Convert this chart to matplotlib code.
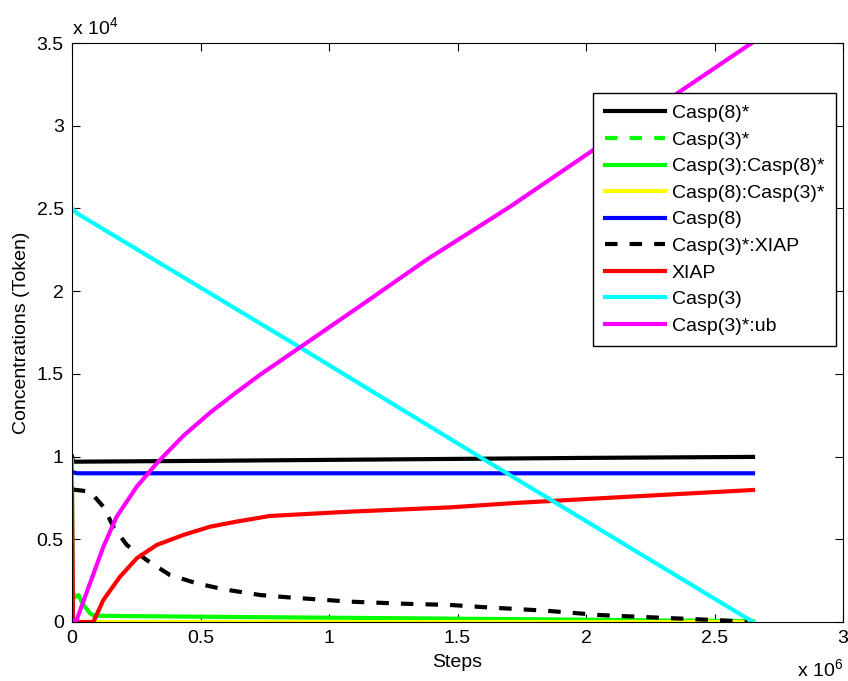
import matplotlib
matplotlib.use("Agg")
import matplotlib.pyplot as plt
import numpy as np

plt.rcParams['font.family'] = ['Liberation Sans', 'DejaVu Sans']
plt.rcParams['mathtext.fontset'] = 'custom'
plt.rcParams['mathtext.rm'] = 'Liberation Sans'
plt.rcParams['mathtext.it'] = 'Liberation Sans:italic'

# Simulation steps are in units of 1e6, concentrations in tokens
casp8_act_x = [0, 0.004, 0.5, 1.0, 1.5, 2.0, 2.65]
casp8_act_y = [10000, 9690, 9740, 9800, 9860, 9920, 9980]

casp3_act_x = [0, 0.5, 1.0, 1.5, 2.0, 2.65]
casp3_act_y = [0, 0, 0, 0, 0, 0]

c3c8_x = [0, 0, 0.003, 0.012, 0.025, 0.038, 0.05, 0.07, 0.085, 0.2, 0.5, 1.0, 1.5, 2.0, 2.4, 2.65]
c3c8_y = [9800, 8400, 1800, 1500, 1630, 1200, 930, 530, 380, 360, 320, 260, 200, 140, 80, 50]

c8c3_x = [0, 0.5, 1.0, 1.5, 2.0, 2.65]
c8c3_y = [30, 30, 30, 30, 30, 30]

casp8_x = [0, 0.02, 0.5, 1.0, 1.5, 2.0, 2.65]
casp8_y = [9060, 8990, 8990, 8990, 8990, 8990, 8990]

c3xiap_x = [0.003, 0.018, 0.07, 0.122, 0.161, 0.213, 0.29, 0.381, 0.485, 0.589, 0.732,
            0.85, 1.082, 1.3, 1.471, 1.6, 1.847, 2.054, 2.3, 2.5, 2.63]
c3xiap_y = [8000, 7980, 7880, 6970, 5760, 4660, 3750, 2840, 2340, 1980, 1630,
            1480, 1230, 1100, 1030, 900, 680, 420, 250, 120, 20]

xiap_x = [0, 0.004, 0.04, 0.083, 0.122, 0.187, 0.252, 0.33, 0.433, 0.537, 0.641, 0.77,
          1.082, 1.471, 1.73, 2.08, 2.65]
xiap_y = [8080, 0, 0, 0, 1330, 2740, 3850, 4660, 5260, 5760, 6070, 6410,
          6670, 6930, 7200, 7500, 7980]

casp3_x = [0, 0.02, 0.887, 1.59, 2.65]
casp3_y = [25000, 24700, 16600, 9950, 0]

c3ub_x = [0, 0.018, 0.07, 0.122, 0.174, 0.252, 0.33, 0.433, 0.537, 0.641, 0.732, 0.887,
          1.121, 1.38, 1.704, 2.016, 2.34, 2.645]
c3ub_y = [0, 120, 2340, 4550, 6370, 8180, 9600, 11250, 12650, 13900, 14950, 16600,
          19100, 21900, 25100, 28400, 31800, 35000]

series = [
    ("Casp(8)*", casp8_act_x, casp8_act_y, "#000000", "-"),
    ("Casp(3)*", casp3_act_x, casp3_act_y, "#00ff00", (0, (3, 2.9))),
    ("Casp(3):Casp(8)*", c3c8_x, c3c8_y, "#00ff00", "-"),
    ("Casp(8):Casp(3)*", c8c3_x, c8c3_y, "#ffff00", "-"),
    ("Casp(8)", casp8_x, casp8_y, "#0000ff", "-"),
    ("Casp(3)*:XIAP", c3xiap_x, c3xiap_y, "#000000", (0, (3, 2.9))),
    ("XIAP", xiap_x, xiap_y, "#ff0000", "-"),
    ("Casp(3)", casp3_x, casp3_y, "#00ffff", "-"),
    ("Casp(3)*:ub", c3ub_x, c3ub_y, "#ff00ff", "-"),
]

FS = 14
W, H = 848, 681
fig = plt.figure(figsize=(W / 100, H / 100), dpi=100)
ax = fig.add_axes([72 / W, 1 - 622 / H, (843 - 72) / W, (622 - 43) / H])

for label, xs, ys, color, ls in series:
    ax.plot(np.array(xs) * 1e6, ys, color=color, linestyle=ls, linewidth=3, label=label)

ax.set_xlim(0, 3e6)
ax.set_ylim(0, 3.5e4)
xt = np.arange(0, 3.01, 0.5)
yt = np.arange(0, 3.51, 0.5)
ax.set_xticks(xt * 1e6)
ax.set_xticklabels([f"{v:g}" for v in xt])
ax.set_yticks(yt * 1e4)
ax.set_yticklabels([f"{v:g}" for v in yt])
ax.tick_params(direction='in', top=True, right=True, length=6, width=0.8,
               labelsize=FS, pad=6)
for s in ax.spines.values():
    s.set_linewidth(0.8)

ax.set_xlabel("Steps", fontsize=FS, labelpad=5)
ax.set_ylabel("Concentrations (Token)", fontsize=FS, labelpad=5)

fig.text(72 / W, 1 - 34 / H, r"x 10$^{4}$", fontsize=FS, ha='left', va='baseline')
fig.text(843 / W, 1 - 676 / H, r"x 10$^{6}$", fontsize=FS, ha='right', va='baseline')

leg = ax.legend(loc='upper left', bbox_to_anchor=(593 / W, 1 - 93 / H),
                bbox_transform=fig.transFigure, fontsize=FS, fancybox=False,
                framealpha=1, edgecolor='black', borderaxespad=0,
                handlelength=3.1, handletextpad=0.34, labelspacing=0.46,
                borderpad=0.6)
leg.get_frame().set_linewidth(1.0)

fig.savefig("out.png", dpi=100)
